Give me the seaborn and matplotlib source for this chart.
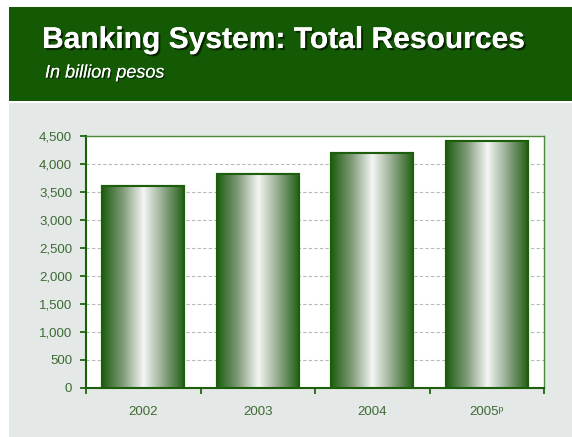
import numpy as np
import pandas as pd
import matplotlib
matplotlib.use("Agg")
import matplotlib.pyplot as plt
import matplotlib.patheffects as pe
from matplotlib.colors import LinearSegmentedColormap
import seaborn as sns

years = ["2002", "2003", "2004", "2005ᵖ"]
resources = [3610, 3815, 4190, 4415]
yticks = [0, 500, 1000, 1500, 2000, 2500, 3000, 3500, 4000, 4500]

sns.set_theme(style="white")
plt.rcParams['font.family'] = ['Liberation Sans', 'DejaVu Sans']

W, H = 572, 437
fig = plt.figure(figsize=(W / 100, H / 100), dpi=100)
fig.patch.set_facecolor("white")

# background panels
fig.add_artist(plt.Rectangle((9 / W, 0), 1 - 9 / W, 1 - 103 / H, transform=fig.transFigure,
                             facecolor="#e4e8e6", edgecolor="none", zorder=0))
fig.add_artist(plt.Rectangle((9 / W, 1 - 101 / H), 1 - 9 / W, 94 / H, transform=fig.transFigure,
                             facecolor="#145a04", edgecolor="none", zorder=0))

fig.text(42 / W, 1 - 40 / H, "Banking System: Total Resources", color="white",
         fontsize=21.6, fontweight="bold", va="center", ha="left",
         path_effects=[pe.withSimplePatchShadow(offset=(1.5, -1.5), shadow_rgbFace="black", alpha=0.6), pe.Normal()])
fig.text(45 / W, 1 - 73 / H, "In billion pesos", color="white", fontsize=13,
         fontstyle="italic", va="center", ha="left",
         path_effects=[pe.withSimplePatchShadow(offset=(1, -1), shadow_rgbFace="black", alpha=0.5), pe.Normal()])

ax = fig.add_axes([86 / W, 1 - 388 / H, (544 - 86) / W, (388 - 136) / H])
ax.set_facecolor("white")

df = pd.DataFrame({"year": years, "value": resources})
sns.barplot(data=df, x="year", y="value", ax=ax, width=0.72, color="white",
            edgecolor="#1d5e0c", linewidth=1.5, zorder=3)

ax.set_ylim(0, 4500)
ax.set_yticks(yticks)
ax.set_yticklabels([f"{v:,}" for v in yticks])
ax.set_xlim(-0.5, 3.5)
ax.set_xlabel("")
ax.set_ylabel("")

# gradient fill
cmap = LinearSegmentedColormap.from_list("g", [(0, "#1e5e10"), (0.25, "#7f9a78"), (0.5, "#f4f6f4"),
                                               (0.75, "#8ea688"), (1, "#1e5e10")])
grad = np.linspace(0, 1, 256).reshape(1, -1)
for p in list(ax.patches):
    x0 = p.get_x(); w = p.get_width(); h = p.get_height()
    im = ax.imshow(grad, cmap=cmap, extent=(x0, x0 + w, 0, h), aspect="auto", zorder=3.5)
    im.set_clip_path(p)
    p2 = plt.Rectangle((x0, 0), w, h, facecolor="none", edgecolor="#1d5e0c", linewidth=1.5, zorder=4)
    ax.add_patch(p2)
ax.set_xlim(-0.5, 3.5)
ax.set_ylim(0, 4500)

ax.yaxis.grid(True, color="#b4bcb4", linestyle=(0, (3, 2)), linewidth=0.8)
ax.set_axisbelow(True)
for s in ax.spines.values():
    s.set_color("#4a8a3a")
    s.set_linewidth(1)
ax.spines["bottom"].set_color("#1d5e0c")
ax.spines["bottom"].set_linewidth(1.5)
ax.spines["left"].set_color("#1d5e0c")
ax.spines["left"].set_linewidth(1.5)

ax.set_xticks([-0.5, 0.5, 1.5, 2.5, 3.5], minor=False)
ax.set_xticklabels([])
ax.set_xticks([0, 1, 2, 3], minor=True)
ax.set_xticklabels(years, minor=True)
ax.tick_params(axis="x", which="major", length=4, color="#1d5e0c", direction="out", bottom=True)
ax.tick_params(axis="x", which="minor", length=0, pad=13, labelsize=9.5, labelcolor="#3d6a34")
ax.tick_params(axis="y", length=4, color="#1d5e0c", direction="out", left=True, labelsize=9.5,
               labelcolor="#3d6a34", pad=6)

fig.savefig("out.png", dpi=100)
